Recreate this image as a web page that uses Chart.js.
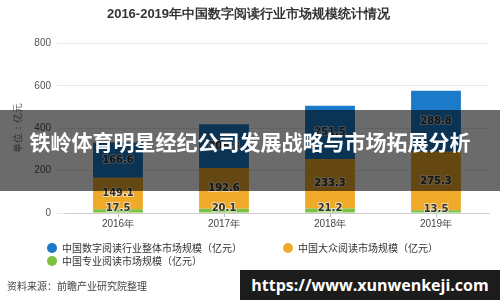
<!DOCTYPE html>
<html>
<head>
<meta charset="utf-8">
<script src="https://cdn.jsdelivr.net/npm/chart.js@4/dist/chart.umd.min.js"></script>
<style>
  body { margin:0; width:500px; height:300px; overflow:hidden; background:#fff; font-family:"Noto Sans CJK SC", sans-serif; }
  #wrap { position:relative; width:500px; height:300px; }
  canvas { position:absolute; left:0; top:0; }
  .leg { position:absolute; font-size:10px; color:#333; line-height:12px; white-space:nowrap; }
  .leg i { display:inline-block; width:10px; height:10px; border-radius:50%; vertical-align:-1px; margin-right:5px; }
  #src { position:absolute; left:7px; top:278px; font-size:10px; color:#444; }
  #banner { position:absolute; left:0; top:110px; width:500px; height:81px; background:rgba(0,0,0,0.58); }
  #banner span { position:absolute; left:0; width:500px; top:16px; text-align:center; color:#fff; font-size:21px; font-weight:bold; }
  #wm { position:absolute; left:240px; top:270px; width:260px; height:30px; background:#1c1c1c; color:#fff; font-family:"Open Sans", sans-serif; font-weight:bold; font-size:16px; line-height:30px; text-align:center; }
</style>
</head>
<body>
<div id="wrap">
  <canvas id="c" width="500" height="300"></canvas>
  <div class="leg" style="left:47px;top:242px"><i style="background:#1b7bc9"></i>中国数字阅读行业整体市场规模（亿元）</div>
  <div class="leg" style="left:283px;top:242px"><i style="background:#f0aa2a"></i>中国大众阅读市场规模（亿元）</div>
  <div class="leg" style="left:47px;top:255px"><i style="background:#7dc242"></i>中国专业阅读市场规模（亿元）</div>
  <div id="src">资料来源：前瞻产业研究院整理</div>
  <div id="banner"><span>铁岭体育明星经纪公司发展战略与市场拓展分析</span></div>
  <div id="wm">https://www.xunwenkeji.com</div>
</div>
<script>
const years = ['2016年', '2017年', '2018年', '2019年'];
const proValues = [17.5, 20.1, 21.2, 13.5];
const massValues = [149.1, 192.6, 233.3, 275.3];
const wholeValues = [166.6, 206.3, 251.5, 288.8];
const yTicks = [0, 200, 400, 600, 800];

// value labels in the middle of each segment
const segLabels = {
  id: 'segLabels',
  afterDatasetsDraw(chart) {
    const ctx = chart.ctx;
    ctx.save();
    ctx.font = 'bold 10px "DejaVu Sans", sans-serif';
    ctx.textAlign = 'center';
    ctx.textBaseline = 'middle';
    chart.data.datasets.forEach((ds, i) => {
      chart.getDatasetMeta(i).data.forEach((bar, j) => {
        let y = (bar.y + bar.base) / 2;
        if (i === 0) y -= 2;
        ctx.lineWidth = 2;
        ctx.strokeStyle = 'rgba(255,255,255,0.55)';
        ctx.strokeText(ds.data[j].toFixed(1), bar.x, y);
        ctx.fillStyle = '#333';
        ctx.fillText(ds.data[j].toFixed(1), bar.x, y);
      });
    });
    ctx.restore();
  }
};

new Chart(document.getElementById('c'), {
  type: 'bar',
  data: {
    labels: years,
    datasets: [
      { label: '中国专业阅读市场规模（亿元）', data: proValues, backgroundColor: '#7dc242' },
      { label: '中国大众阅读市场规模（亿元）', data: massValues, backgroundColor: '#f0aa2a' },
      { label: '中国数字阅读行业整体市场规模（亿元）', data: wholeValues, backgroundColor: '#1b7bc9' }
    ]
  },
  options: {
    responsive: false,
    animation: false,
    layout: { padding: { left: 8, right: 11, top: 0, bottom: 67 } },
    datasets: { bar: { categoryPercentage: 1, barPercentage: 0.47 } },
    scales: {
      x: {
        stacked: true,
        grid: { drawOnChartArea: false, offset: false, tickLength: 4, color: '#bbb' },
        border: { color: '#ccc' },
        ticks: { color: '#444', font: { size: 10 }, padding: 1 },
        afterFit(s) { s.height = 20; }
      },
      y: {
        stacked: true,
        min: 0,
        max: 800,
        afterBuildTicks(s) { s.ticks = yTicks.map(v => ({ value: v })); },
        grid: { color: '#e8e8e8', tickLength: 8 },
        border: { display: false },
        ticks: { color: '#555', font: { size: 10 }, padding: 6 },
        title: { display: true, text: '单位：亿元', color: '#666', font: { size: 10 }, padding: { top: 4, bottom: 0 } },
        afterFit(s) { s.width = 57; }
      }
    },
    plugins: {
      legend: { display: false },
      tooltip: { enabled: false },
      title: {
        display: true,
        text: '2016-2019年中国数字阅读行业市场规模统计情况',
        color: '#333',
        font: { size: 13, weight: 'bold' },
        padding: { top: 7, bottom: 21 }
      }
    }
  },
  plugins: [segLabels]
});
</script>
</body>
</html>
